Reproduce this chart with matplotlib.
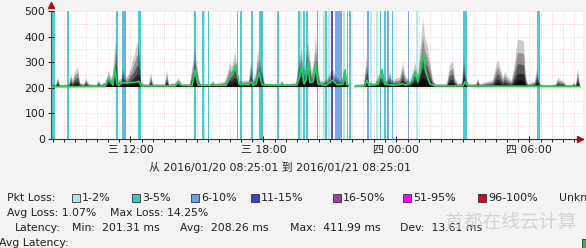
import numpy as np
import matplotlib
matplotlib.use("Agg")
import matplotlib.pyplot as plt
from matplotlib.patches import Rectangle

plt.rcParams["font.family"] = ["DejaVu Sans", "Noto Sans CJK SC"]

# ==========================================================
# Data (hours of 2016/01/20, 32 = 08:00 next day)
# ==========================================================

t_start = 8 + 25 / 60
t_end = t_start + 24

nan = float("nan")

med_t = [8.42, 10.85, 10.99, 11.12, 11.21, 11.30, 11.39, 11.48, 11.62, 11.76,
         11.98, 12.25, 12.39, 12.48, 14.01, 14.15, 14.28, 14.78, 14.91, 15.05,
         16.31, 16.49, 16.63, 16.76, 16.90, 17.35, 17.44, 17.53, 17.67, 17.80,
         17.94, 19.51, 19.65, 19.74, 19.83, 19.92, 20.01, 20.10, 20.24, 20.37,
         20.46, 20.82, 21.14, 21.32, 21.59, 21.68, 21.77, 21.84, 21.98, 22.13,
         22.58, 22.67, 22.76, 23.17, 23.35, 23.48, 23.80, 24.30, 24.43, 24.70,
         24.84, 24.97, 25.11, 25.20, 25.33, 25.51, 25.74, 27.00, 27.09, 27.23,
         32.28]
med_v = [204, 205, 237, 225, 210, 277, 215, 208, 220, 218,
         220, 222, 225, 207, 207, 224, 210, 208, 270, 210,
         210, 240, 265, 289, 215, 212, 224, 210, 215, 263,
         212, 210, 250, 281, 215, 230, 297, 220, 225, 289,
         215, 210, 230, 212, 215, 270, 215, 210, nan, 205,
         208, 230, 210, 215, 270, 215, 210, 215, 210, 225,
         262, 225, 280, 336, 260, 215, 207, 207, 223, 207,
         205]

smoke_t = [8.42, 8.64, 8.73, 8.82, 9.23, 9.32, 9.41, 9.45, 9.54, 9.64,
           9.73, 9.91, 10.00, 10.13, 10.49, 10.58, 10.67, 10.90, 11.03, 11.12,
           11.21, 11.35, 11.44, 11.58, 11.67, 11.76, 11.89, 12.03, 12.16, 12.30,
           12.34, 12.43, 12.48, 12.61, 12.84, 12.93, 13.02, 13.56, 13.65, 13.74,
           14.06, 14.15, 14.24, 14.33, 14.69, 14.82, 14.91, 15.00, 15.09, 15.18,
           15.63, 15.72, 15.82, 16.27, 16.40, 16.49, 16.58, 16.72, 16.81, 16.90,
           17.35, 17.44, 17.53, 17.67, 17.75, 17.84, 17.98, 18.07, 18.75, 18.84,
           18.93, 19.47, 19.60, 19.74, 19.83, 19.97, 20.01, 20.10, 20.19, 20.33,
           20.37, 20.46, 20.55, 20.78, 20.96, 21.14, 21.32, 21.50, 21.63, 21.72,
           21.84, 21.98, 22.13, 22.54, 22.63, 22.67, 22.76, 23.03, 23.21, 23.35,
           23.48, 23.62, 23.71, 23.80, 24.16, 24.30, 24.39, 24.48, 24.61, 24.75,
           24.84, 24.97, 25.11, 25.20, 25.29, 25.42, 25.56, 25.65, 25.78, 26.28,
           26.42, 26.55, 26.64, 26.78, 26.96, 27.05, 27.14, 27.27, 27.59, 27.68,
           27.77, 28.36, 28.49, 28.58, 28.72, 28.81, 28.90, 29.03, 29.21, 29.35,
           29.48, 29.62, 29.75, 29.84, 29.93, 30.25, 30.34, 30.43, 30.52, 30.84,
           30.93, 31.20, 31.29, 31.42, 31.56, 31.65, 31.92, 32.01, 32.10, 32.19,
           32.28]
smoke_top = [212, 212, 243, 212, 213, 258, 225, 250, 265, 282,
             220, 215, 238, 215, 212, 230, 212, 225, 265, 240,
             250, 400, 230, 235, 277, 240, 245, 280, 320, 370,
             380, 330, 225, 215, 214, 258, 215, 214, 270, 215,
             220, 238, 230, 215, 215, 300, 348, 300, 238, 215,
             214, 230, 214, 225, 260, 297, 280, 340, 300, 225,
             230, 305, 230, 260, 348, 300, 258, 215, 214, 230,
             214, 220, 300, 355, 260, 340, 375, 330, 260, 350,
             412, 300, 230, 225, 250, 270, 240, 225, 270, 240,
             215, nan, 212, 215, 300, 316, 225, 215, 250, 277,
             230, 230, 270, 230, 240, 301, 250, 240, 225, 260,
             301, 250, 380, 472, 400, 360, 280, 230, 215, 215,
             290, 302, 240, 215, 220, 316, 240, 215, 215, 238,
             215, 230, 280, 309, 270, 240, 263, 240, 230, 300,
             387, 387, 380, 250, 215, 225, 277, 230, 212, 212,
             211, 215, 238, 230, 224, 212, 212, 220, 212, 277,
             212]

# packet loss per 5 minute step (percent)
loss_t = [8.42, 8.50, 9.13, 11.37, 11.61, 11.71, 12.34, 12.41, 14.87, 15.23,
          15.30, 15.48, 16.79, 16.94, 17.44, 17.78, 17.84, 17.91, 18.60, 19.56,
          19.65, 19.80, 19.92, 20.40, 20.69, 20.80, 20.91, 21.05, 21.23, 21.31,
          21.39, 21.47, 21.59, 21.75, 21.86, 22.66, 22.81, 23.10, 23.24, 23.44,
          23.57, 23.78, 24.50, 24.88, 27.00, 27.09, 30.34, 30.41]
loss_pct = [4, 4, 4, 4, 4, 7, 4, 4, 4, 4,
            2, 4, 4, 4, 4, 4, 4, 4, 4, 4,
            2, 4, 4, 8, 2, 4, 2, 12, 8, 8,
            8, 8, 2, 4, 4, 8, 2, 2, 4, 4,
            8, 4, 8, 2, 4, 4, 4, 4]

loss_labels = ["1-2%", "3-5%", "6-10%", "11-15%", "16-50%", "51-95%", "96-100%"]
loss_limits = [2, 5, 10, 15, 50, 95, 100]
loss_colors = ["#aee9ea", "#3cc6ca", "#6b9fe6", "#3a40d2", "#a03ea2", "#ff00ff", "#dd0022"]

tick_hours = [12, 18, 24, 30]
tick_labels = ["三 12:00", "三 18:00", "四 00:00", "四 06:00"]

# ==========================================================
# Figure
# ==========================================================

W, H = 586, 248
fig = plt.figure(figsize=(W / 100, H / 100), dpi=100, facecolor="#f4f2f2")
ax = fig.add_axes([51 / W, 1 - 139 / H, 532 / W, 128 / H])
ax.set_facecolor("white")

ax.set_xlim(t_start, t_end)
ax.set_ylim(0, 500)

# grid
for gx in np.arange(8.5, t_end, 0.5):
    ax.axvline(gx, color="#eec8c8", lw=0.6, ls=(0, (1, 1.5)), zorder=0)
for gy in range(50, 501, 50):
    ax.axhline(gy, color="#eec8c8", lw=0.6, ls=(0, (1, 1.5)), zorder=0)

# loss bars
step = 5 / 60
for t, p in zip(loss_t, loss_pct):
    idx = next(i for i, lim in enumerate(loss_limits) if p <= lim)
    ax.axvspan(t, t + step, color=loss_colors[idx], lw=0, alpha=0.9, zorder=1)

# smoke
st = np.array(smoke_t)
stop = np.array(smoke_top)
base = 203
for frac, alpha in [(1.0, 0.2), (0.72, 0.28), (0.48, 0.4), (0.28, 0.55), (0.14, 0.7)]:
    ax.fill_between(st, base, base + (stop - base) * frac, color="black",
                    alpha=alpha, lw=0, zorder=2)

# median
ax.plot(med_t, med_v, color="#1fd35c", lw=1.2, zorder=3)

# axes
for s in ["top", "right"]:
    ax.spines[s].set_visible(False)
ax.spines["left"].set_color("#555555")
ax.spines["bottom"].set_color("#333333")
ax.spines["left"].set_linewidth(0.8)
ax.spines["bottom"].set_linewidth(0.8)

ax.set_yticks(range(0, 501, 100))
ax.set_xticks(tick_hours)
ax.set_xticklabels(tick_labels)
ax.set_xticks(np.arange(8.5, t_end, 0.5), minor=True)
ax.tick_params(axis="both", labelsize=7.8, colors="#222222", direction="inout")
ax.tick_params(axis="x", which="major", length=4, pad=2)
ax.tick_params(axis="x", which="minor", length=2)
ax.tick_params(axis="y", length=4, pad=2)

# arrows
ax.plot([0], [1.045], marker="^", color="#aa1111", ms=4, transform=ax.transAxes, clip_on=False)
ax.plot([0.995], [0.0], marker=">", color="#aa1111", ms=4, transform=ax.transAxes, clip_on=False)

# ==========================================================
# Texts
# ==========================================================

def fx(px):
    return px / W


def fy(py):
    return 1 - py / H


fig.text(fx(280), fy(168), "从 2016/01/20 08:25:01 到 2016/01/21 08:25:01",
         fontsize=7.8, ha="center", va="center", color="#222222")

fig.text(fx(7), fy(198), "Pkt Loss:", fontsize=7.8, va="center", color="#222222")
box_x = [72, 132, 191, 251, 333, 403, 478]
for bx, lab, col in zip(box_x, loss_labels, loss_colors):
    fig.patches.append(Rectangle((fx(bx), fy(202)), 8 / W, 8 / H, facecolor=col,
                                 edgecolor="#333333", lw=0.6, transform=fig.transFigure))
    fig.text(fx(bx + 10), fy(198), lab, fontsize=8, va="center", color="#222222")
fig.text(fx(559), fy(198), "Unknown", fontsize=7.8, va="center", color="#222222")

fig.text(fx(7), fy(213), "Avg Loss: 1.07%", fontsize=7.8, va="center", color="#222222")
fig.text(fx(110), fy(213), "Max Loss: 14.25%", fontsize=7.8, va="center", color="#222222")

fig.text(fx(15), fy(228), "Latency:", fontsize=7.8, va="center", color="#222222")
fig.text(fx(72), fy(228), "Min:  201.31 ms", fontsize=7.8, va="center", color="#222222")
fig.text(fx(180), fy(228), "Avg:  208.26 ms", fontsize=7.8, va="center", color="#222222")
fig.text(fx(290), fy(228), "Max:  411.99 ms", fontsize=7.8, va="center", color="#222222")
fig.text(fx(400), fy(228), "Dev:  13.61 ms", fontsize=7.8, va="center", color="#222222")

fig.text(fx(-1), fy(243), "Avg Latency:", fontsize=7.8, va="center", color="#222222")
fig.patches.append(Rectangle((fx(582), fy(248)), 8 / W, 9 / H, facecolor="#1fbf4a",
                             edgecolor="#333333", lw=0.6, transform=fig.transFigure))

# watermark
fig.text(fx(445), fy(222), "首都在线云计算", fontsize=13.5, va="center",
         color="#cccccc", alpha=0.75, family=["Noto Sans CJK SC", "DejaVu Sans"])

fig.savefig("out.png", dpi=100, facecolor=fig.get_facecolor())
